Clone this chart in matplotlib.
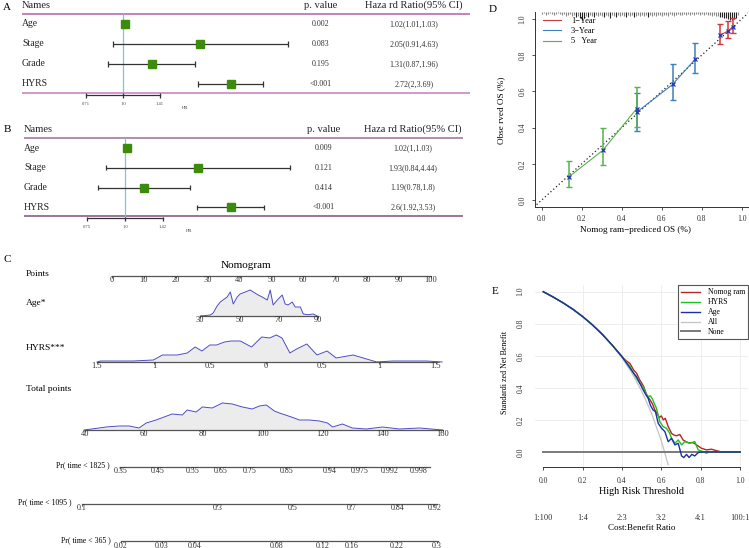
"""
Forest plots, nomogram, calibration and decision curve panels (A-E)
"""

import numpy as np
import matplotlib
matplotlib.use('Agg')
import matplotlib.pyplot as plt
from matplotlib import transforms

plt.rcParams['font.family'] = ['Liberation Serif', 'DejaVu Serif']

W, H = 749, 548

# ---- A / B: Cox forest plots ----
names = ['Age', 'Stage', 'Grade', 'HYRS']
hr_ticks = [0.71, 1.0, 1.41]

a_hr = [1.02, 2.05, 1.31, 2.72]
a_lo = [1.01, 0.91, 0.87, 2.0]
a_hi = [1.03, 4.63, 1.96, 3.69]
a_p = ['0.002', '0.083', '0.195', '<0.001']
a_ci = ['1.02(1.01,1.03)', '2.05(0.91,4.63)', '1.31(0.87,1.96)', '2.72(2,3.69)']
a_tick_labels = ['0.71', '1.0', '1.41']

b_hr = [1.02, 1.93, 1.19, 2.6]
b_lo = [1.0, 0.84, 0.78, 1.92]
b_hi = [1.03, 4.44, 1.8, 3.53]
b_p = ['0.009', '0.121', '0.414', '<0.001']
b_ci = ['1.02(1,1.03)', '1.93(0.84,4.44)', '1.19(0.78,1.8)', '2.6(1.92,3.53)']
b_tick_labels = ['0.75', '1.0', '1.42']

# ---- C: nomogram ----
points_ticks = [0, 10, 20, 30, 40, 50, 60, 70, 80, 90, 100]
age_ticks = [30, 50, 70, 90]
age_pos = [27.6, 40.1, 52.4, 64.6]
hyrs_ticks = [-1.5, -1, -0.5, 0, 0.5, 1, 1.5]
hyrs_labels = ['1.5', '1', '0.5', '0', '0.5', '1', '1.5']
hyrs_pos = [-4.7, 13.2, 30.7, 48.3, 65.8, 83.7, 101.6]
total_ticks = [40, 60, 80, 100, 120, 140, 160]
total_pos = [-8.5, 10.0, 28.5, 47.3, 66.1, 85.0, 103.8]

pr1825_labels = ['0.35', '0.45', '0.55', '0.65', '0.75', '0.85', '0.94', '0.975', '0.992', '0.998']
pr1825_at = [52.1, 64.5, 76.5, 85.6, 95.6, 107.7, 122.1, 132.2, 142.2, 152.0]
pr1095_labels = ['0.1', '0.3', '0.5', '0.7', '0.84', '0.92']
pr1095_at = [39.3, 84.6, 109.7, 129.5, 144.9, 157.3]
pr365_labels = ['0.02', '0.03', '0.04', '0.08', '0.12', '0.16', '0.22', '0.3']
pr365_at = [52.4, 66.1, 76.9, 104.4, 119.8, 129.5, 144.6, 158.0]

age_dens_x = [30, 32.5, 35.1, 36.6, 38.6, 40.2, 43.7, 45.3, 46.8, 48.8, 50.3, 52.9, 55.4, 57.0, 59.5,
              61.5, 64.1, 65.6, 67.1, 69.2, 71.7, 73.2, 74.7, 76.8, 78.3, 80.9, 82.4, 84.9, 87.5, 89.5]
age_dens_h = [0, 0.5, 1, 3, 10, 14, 19, 24, 12, 19, 22, 24, 26, 24, 21,
              19, 16, 26, 11, 16, 21, 12, 11, 14, 9, 9, 2, 1.3, 2, 0]
hyrs_dens_x = [-1.5, -1.47, -1.36, -1.18, -1.0, -0.92, -0.79, -0.70, -0.63, -0.57, -0.50, -0.44,
               -0.37, -0.31, -0.23, -0.13, -0.04, 0.03, 0.09, 0.14, 0.21, 0.27, 0.36, 0.45, 0.54,
               0.62, 0.77, 0.89, 0.98, 1.12, 1.27, 1.42, 1.56]
hyrs_dens_h = [0, 1, 1, 1, 2, 7, 7, 9, 15, 11, 17, 17, 20, 21, 21, 15, 25, 24, 27, 24, 9, 13, 18,
               7, 11, 4, 7, 3, 0, 1, 1, 1, 0]
tot_dens_x = [40, 45.0, 47.4, 51.7, 55.1, 58.4, 60.8, 64.1, 66.8, 69.5, 72.9, 74.5, 77.5, 79.6,
              82.9, 86.3, 89.6, 93.0, 96.3, 98.7, 101.0, 103.7, 105.4, 109.4, 112.1, 115.4, 118.8,
              121.5, 123.2, 126.5, 129.8, 134.5, 139.9, 145.6, 152.3, 160]
tot_dens_h = [0, 2, 3, 4, 4, 2, 7, 10, 13, 16, 15, 20, 18, 23, 22, 27, 26, 23, 21, 24, 25, 19,
              17, 13, 10, 10, 9, 7, 3, 6, 2, 1, 3, 1, 2, 0]

# ---- D: calibration ----
cal1_pred = [0.892, 0.933, 0.958]
cal1_obs = [0.91, 0.935, 0.958]
cal1_lo = [0.86, 0.897, 0.921]
cal1_hi = [0.971, 0.987, 1.004]
cal3_pred = [0.475, 0.655, 0.767]
cal3_obs = [0.485, 0.639, 0.777]
cal3_lo = [0.383, 0.552, 0.70]
cal3_hi = [0.589, 0.749, 0.866]
cal5_pred = [0.137, 0.305, 0.475]
cal5_obs = [0.129, 0.274, 0.505]
cal5_lo = [0.07, 0.193, 0.405]
cal5_hi = [0.217, 0.398, 0.623]
# histogram of predicted risk along the top (bins of 0.01, height in px)
rug_h = [2, 1, 3, 2, 1, 2, 3, 2, 1, 2,
         3, 2, 4, 3, 2, 4, 3, 5, 4, 6,
         8, 6, 4, 5, 3, 4, 5, 3, 4, 3,
         4, 5, 3, 4, 6, 3, 4, 5, 3, 4,
         3, 4, 5, 3, 4, 3, 5, 4, 3, 4,
         3, 4, 3, 5, 3, 4, 3, 4, 3, 3,
         4, 3, 3, 4, 2, 3, 4, 3, 2, 3,
         3, 2, 3, 2, 3, 2, 3, 2, 2, 3,
         2, 3, 2, 3, 3, 4, 3, 4, 4, 5,
         5, 6, 6, 7, 8, 8, 7, 6, 3]

# ---- E: decision curve ----
thr_all = [0, 0.05, 0.1, 0.15, 0.2, 0.25, 0.3, 0.35, 0.4, 0.45, 0.5, 0.55, 0.6, 0.635]
nb_all = [1.0, 0.967, 0.931, 0.891, 0.845, 0.793, 0.734, 0.666, 0.587, 0.493, 0.38, 0.242, 0.07, -0.08]
thr_head = [0, 0.05, 0.1, 0.15, 0.2, 0.25, 0.3, 0.35, 0.4]
nb_head = [1.0, 0.967, 0.931, 0.891, 0.845, 0.793, 0.734, 0.667, 0.595]
thr_nomo = [0.42, 0.44, 0.46, 0.475, 0.49, 0.51, 0.525, 0.54, 0.555, 0.567, 0.58, 0.59, 0.6, 0.61,
            0.62, 0.635, 0.652, 0.665, 0.677, 0.694, 0.711, 0.736, 0.762, 0.779, 0.804, 0.829,
            0.855, 0.88, 0.906, 1.0]
nb_nomo = [0.57, 0.553, 0.51, 0.49, 0.45, 0.41, 0.356, 0.33, 0.30, 0.262, 0.235, 0.215, 0.225, 0.2,
           0.21, 0.158, 0.116, 0.105, 0.101, 0.109, 0.074, 0.058, 0.058, 0.044, 0.023, 0.013,
           0.017, 0.008, 0.0, 0.0]
thr_hyrs = [0.42, 0.44, 0.46, 0.474, 0.49, 0.508, 0.52, 0.533, 0.545, 0.555, 0.565, 0.575, 0.584,
            0.592, 0.609, 0.626, 0.643, 0.652, 0.669, 0.686, 0.703, 0.72, 0.745, 0.77, 0.787,
            0.812, 0.829, 0.846, 1.0]
nb_hyrs = [0.565, 0.535, 0.49, 0.459, 0.43, 0.408, 0.37, 0.346, 0.35, 0.33, 0.30, 0.273, 0.23,
           0.19, 0.158, 0.148, 0.116, 0.085, 0.054, 0.075, 0.044, 0.065, 0.054, 0.065, 0.013,
           0.002, -0.008, 0.002, 0.0]
thr_age = [0.42, 0.44, 0.46, 0.474, 0.49, 0.508, 0.52, 0.533, 0.545, 0.558, 0.57, 0.584, 0.601,
           0.618, 0.635, 0.652, 0.669, 0.686, 0.703, 0.714, 0.728, 0.741, 0.755, 0.77, 0.787,
           0.804, 1.0]
nb_age = [0.56, 0.525, 0.49, 0.47, 0.43, 0.387, 0.36, 0.335, 0.29, 0.262, 0.252, 0.179, 0.148,
          0.127, 0.064, 0.085, 0.044, 0.054, -0.025, -0.035, -0.015, -0.035, -0.015, -0.025,
          -0.004, 0.0, 0.0]
dca_ticks = [0.0, 0.2, 0.4, 0.6, 0.8, 1.0]
cost_labels = ['1:100', '1:4', '2:3', '3:2', '4:1', '100:1']


fig = plt.figure(figsize=(W / 100, H / 100), dpi=100)


def px_axes(left, top, right, bottom):
    """axes placed by a pixel box measured from the top-left corner"""
    return fig.add_axes([left / W, 1 - bottom / H, (right - left) / W, (bottom - top) / H])


def forest(ax, hr, lo, hi, pvals, cis, tick_labels, top_col, bot_col, p_x, ci_x):
    ax.set_xscale('log')
    ax.axis('off')
    rows = np.arange(1, len(names) + 1)
    tr = transforms.blended_transform_factory(ax.transAxes, ax.transData)
    head = dict(transform=tr, fontsize=7.6, va='center', color='#222')
    ax.text(0, 0.05, 'Names', **head)
    ax.text(p_x, 0.05, 'p. value', ha='center', **head)
    ax.text(ci_x, 0.05, 'Haza rd Ratio(95% CI)', ha='center', **head)
    ax.plot([0, 1], [0.5, 0.5], transform=tr, color=top_col, lw=1.1)
    ax.plot([0, 1], [4.45, 4.45], transform=tr, color=bot_col, lw=1.1)
    ax.plot([1, 1], [0.5, 4.55], color='#7cc5d1', lw=0.9)
    ax.hlines(rows, lo, hi, color='#333333', lw=0.9)
    ax.vlines(lo, rows - 0.13, rows + 0.13, color='#333333', lw=0.9)
    ax.vlines(hi, rows - 0.13, rows + 0.13, color='#333333', lw=0.9)
    ax.plot(hr, rows, 's', color='#3c8c0c', ms=5.3, zorder=5)
    for r, name, p, ci in zip(rows, names, pvals, cis):
        ax.text(0, r, name, transform=tr, fontsize=7, va='center', color='#222')
        ax.text(p_x, r, p, transform=tr, fontsize=5.8, va='center', ha='center', color='#333')
        ax.text(ci_x, r, ci, transform=tr, fontsize=5.8, va='center', ha='center', color='#333')
    # HR axis under the table
    ax.plot([hr_ticks[0], hr_ticks[-1]], [4.57, 4.57], color='#333333', lw=0.9)
    ax.vlines(hr_ticks, 4.47, 4.7, color='#333333', lw=0.9)
    for t, lab in zip(hr_ticks, tick_labels):
        ax.text(t, 5.0, lab, fontsize=3.3, ha='center', va='center', color='#444')
    ax.text(1.78, 5.22, 'HR', fontsize=3.3, ha='center', va='center', color='#444')


ax_a = px_axes(22, 0, 470, 112)
forest(ax_a, a_hr, a_lo, a_hi, a_p, a_ci, a_tick_labels, '#b160a8', '#c77cc0', 0.667, 0.875)
ax_a.set_xlim(0.391, 25.2)
ax_a.set_ylim(5.4, -0.2)

ax_b = px_axes(24, 112, 463, 236)
forest(ax_b, b_hr, b_lo, b_hi, b_p, b_ci, b_tick_labels, '#9b6f9b', '#7f4f80', 0.683, 0.886)
ax_b.set_xlim(0.401, 21.3)
ax_b.set_ylim(5.46, -0.84)

fig.text(7 / W, 1 - 7 / H, 'A', fontsize=8, ha='center', va='center')
fig.text(7 / W, 1 - 129 / H, 'B', fontsize=8, ha='center', va='center')

# ---- C: nomogram (x in points, y in pixel rows) ----
ax_c = px_axes(0, 240, 480, 548)
ax_c.axis('off')
ax_c.set_xlim(-35.1, 115.4)
ax_c.set_ylim(548, 240)

to_pts_age = np.polyfit(age_ticks, age_pos, 1)
to_pts_hyrs = np.polyfit(hyrs_ticks, hyrs_pos, 1)
to_pts_tot = np.polyfit(total_ticks, total_pos, 1)
AX_COL = '#555555'


def nomo_axis(pos, labels, y, fs=6, x_end=None):
    right = max(pos) if x_end is None else x_end
    ax_c.plot([min(pos), right], [y, y], color=AX_COL, lw=0.9)
    ax_c.vlines(pos, y, y + 2, color=AX_COL, lw=0.7)
    for p, lab in zip(pos, labels):
        ax_c.text(p, y + 4.5, lab, fontsize=fs, ha='center', va='center', color='#333')


def density(xp, h, y):
    xp = np.asarray(xp)
    top = y - np.asarray(h)
    ax_c.fill_between(xp, y, top, color='#ececec', lw=0)
    ax_c.plot(xp, top, color='#4c4cc4', lw=0.7)


ax_c.text(42, 266, 'Nomogram', fontsize=8, ha='center', va='center')
row_x = -27
Y_PTS, Y_AGE, Y_HYRS, Y_TOT = 275.5, 316, 362, 430
ax_c.text(row_x, 274, 'Points', fontsize=6.8, va='center')
nomo_axis(points_ticks, [str(v) for v in points_ticks], Y_PTS)

ax_c.text(row_x, 303, 'Age*', fontsize=6.8, va='center')
density(np.polyval(to_pts_age, age_dens_x), age_dens_h, Y_AGE)
nomo_axis(age_pos, [str(v) for v in age_ticks], Y_AGE)

ax_c.text(row_x, 348, 'HYRS***', fontsize=6.8, va='center')
density(np.polyval(to_pts_hyrs, hyrs_dens_x), hyrs_dens_h, Y_HYRS)
nomo_axis(hyrs_pos, hyrs_labels, Y_HYRS)

ax_c.text(row_x, 389, 'Total points', fontsize=6.8, va='center')
density(np.polyval(to_pts_tot, tot_dens_x), tot_dens_h, Y_TOT)
nomo_axis(total_pos, [str(v) for v in total_ticks], Y_TOT)

pr_rows = [
    ('Pr( time < 1825 )', pr1825_labels, pr1825_at, 466.5, 155.7),
    ('Pr( time < 1095 )', pr1095_labels, pr1095_at, 503.5, 158.0),
    ('Pr( time < 365 )', pr365_labels, pr365_at, 541.0, 158.5),
]
for title, labels, at, y, end in pr_rows:
    pos = np.polyval(to_pts_tot, at)
    nomo_axis(list(pos), labels, y, fs=5.8, x_end=np.polyval(to_pts_tot, end))
    ax_c.text(pos[0] - 3.3, y - 1, title, fontsize=5.6, ha='right', va='center')

fig.text(7 / W, 1 - 260 / H, 'C', fontsize=8, ha='center', va='center')

# ---- D: calibration curve ----
ax_d = px_axes(535, 12, 748, 207)
ax_d.set_xlim(-0.034, 1.032)
ax_d.set_ylim(-0.039, 1.039)
for s in ['top', 'right']:
    ax_d.spines[s].set_visible(False)
for s in ['left', 'bottom']:
    ax_d.spines[s].set_linewidth(0.7)
    ax_d.spines[s].set_color('#333333')
ax_d.plot([-0.04, 1.04], [-0.04, 1.04], linestyle=(0, (1, 2)), color='#222222', lw=0.9)

rug_x = np.arange(len(rug_h)) * 0.01
rug_len = np.array(rug_h) / 181.0
ax_d.vlines(rug_x, 1.039 - rug_len, 1.039,
            colors=['#222222' if h >= 5 else '#888888' for h in rug_h], lw=0.8)

cal_series = [
    (cal1_pred, cal1_obs, cal1_lo, cal1_hi, '#d0393b', '1\u2212Year'),
    (cal3_pred, cal3_obs, cal3_lo, cal3_hi, '#3d7fbd', '3\u2212Year'),
    (cal5_pred, cal5_obs, cal5_lo, cal5_hi, '#55b34a', '5   Year'),
]
for pred, obs, lo, hi, col, lab in cal_series:
    obs_a = np.array(obs)
    ax_d.plot(pred, obs, color=col, lw=0.8, label=lab)
    ax_d.errorbar(pred, obs, yerr=[obs_a - np.array(lo), np.array(hi) - obs_a], fmt='none',
                  ecolor=col, elinewidth=1.1, capsize=2, capthick=1.0)
for pred, obs, *_ in cal_series:
    ax_d.plot(pred, obs, 'x', color='#2536b0', ms=3.3, mew=0.9, zorder=6)

ax_d.set_xticks(dca_ticks)
ax_d.set_xticklabels([f'{v:.1f}' for v in dca_ticks])
ax_d.set_yticks(dca_ticks)
ax_d.set_yticklabels([f'{v:.1f}' for v in dca_ticks], rotation=90, va='center')
ax_d.tick_params(labelsize=5.5, length=2.5, width=0.6, pad=3.5, colors='#333333')
ax_d.legend(loc='upper left', bbox_to_anchor=(0.02, 0.99), frameon=False, fontsize=6,
            handlelength=2.2, handletextpad=1.2, labelspacing=0.25, borderaxespad=0)
fig.text(636 / W, 1 - 230 / H, 'Nomog ram\u2212prediced OS (%)', fontsize=6.6,
         ha='center', va='center')
fig.text(501 / W, 1 - 110 / H, 'Obse rved OS (%)', fontsize=6.6, rotation=90,
         ha='center', va='center')
fig.text(493 / W, 1 - 10 / H, 'D', fontsize=8, ha='center', va='center')

# ---- E: decision curve ----
ax_e = px_axes(535.4, 285.3, 747.9, 466.7)
ax_e.set_xlim(-0.04, 1.04)
ax_e.set_ylim(-0.092, 1.04)
for s in ['top', 'right', 'left']:
    ax_e.spines[s].set_visible(False)
ax_e.spines['bottom'].set_bounds(0, 1)
ax_e.spines['bottom'].set_linewidth(0.7)
ax_e.spines['bottom'].set_color('#333333')
for v in dca_ticks[1:]:
    ax_e.axvline(v, color='#ebebeb', lw=0.6, zorder=0)
    ax_e.axhline(v, color='#ebebeb', lw=0.6, zorder=0)

ax_e.plot(thr_all, nb_all, color='#c4c4c4', lw=0.9, label='All')
ax_e.plot([0, 1], [0, 0], color='#7a7a7a', lw=1.4, label='None')
ax_e.plot(thr_head + thr_nomo, nb_head + nb_nomo, color='#b3262a', lw=1.0, label='Nomog ram')
ax_e.plot(thr_head + thr_hyrs, nb_head + nb_hyrs, color='#1fbf1f', lw=1.0, label='HYRS')
ax_e.plot(thr_head + thr_age, nb_head + nb_age, color='#1c2fa8', lw=1.0, label='Age')
handles, labels = ax_e.get_legend_handles_labels()
order = ['Nomog ram', 'HYRS', 'Age', 'All', 'None']
hd = dict(zip(labels, handles))
leg = ax_e.legend([hd[k] for k in order], order, loc='upper right', bbox_to_anchor=(1.0, 1.0),
                  fontsize=5.6, handlelength=2.4, handletextpad=1.0, labelspacing=0.25,
                  borderaxespad=0, fancybox=False, edgecolor='#555555', framealpha=1)
leg.get_frame().set_linewidth(0.8)

ax_e.set_xticks(dca_ticks)
ax_e.set_xticklabels([f'{v:.1f}' for v in dca_ticks])
ax_e.set_yticks(dca_ticks)
ax_e.set_yticklabels([f'{v:.1f}' for v in dca_ticks], rotation=90, va='center')
ax_e.tick_params(axis='x', labelsize=5.5, length=2.5, width=0.6, pad=5, colors='#333333')
ax_e.tick_params(axis='y', labelsize=5.5, length=0, pad=8, colors='#333333')
tr_e = transforms.blended_transform_factory(ax_e.transData, ax_e.transAxes)
for v, lab in zip(dca_ticks, cost_labels):
    ax_e.text(v, -0.283, lab, transform=tr_e, fontsize=6, ha='center', va='center', color='#333')
ax_e.text(0.5, -0.138, 'High Risk Threshold', transform=ax_e.transAxes, fontsize=7.3,
          ha='center', va='center')
ax_e.text(0.5, -0.338, 'Cost:Benefit Ratio', transform=ax_e.transAxes, fontsize=6.5,
          ha='center', va='center')
fig.text(505 / W, 1 - 372 / H, 'Standardi zed Net Benefit', fontsize=5.8, rotation=90,
         ha='center', va='center')
fig.text(495 / W, 1 - 291 / H, 'E', fontsize=8, ha='center', va='center')

fig.savefig('out.png', dpi=100)
